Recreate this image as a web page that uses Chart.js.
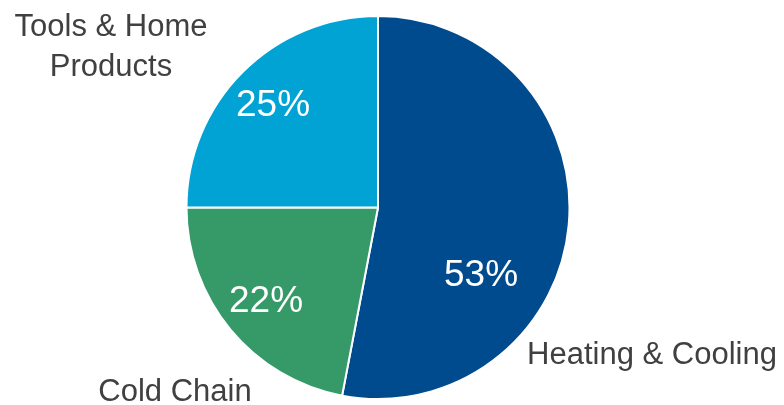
<!DOCTYPE html>
<html>
<head>
<meta charset="utf-8">
<script src="https://cdn.jsdelivr.net/npm/chart.js@4/dist/chart.umd.min.js"></script>
<style>
  html, body { margin:0; padding:0; background:#fff; }
  #wrap { width:784px; height:405px; position:relative; }
</style>
</head>
<body>
<div id="wrap"><canvas id="pie"></canvas></div>
<script>
// slice data, clockwise from 12 o'clock
const categories = ['Heating & Cooling', 'Cold Chain', 'Tools & Home\nProducts'];
const shares = [53, 22, 25];
const colors = ['#004B8D', '#359A68', '#00A3D3'];

// where the text goes (pixels on the canvas)
const pctPos = [[481, 276], [266, 302], [273, 106]];
const namePos = [[652, 355], [175, 392], [111, 27]];

const labelPlugin = {
    id: 'pieLabels',
    afterDatasetsDraw(chart) {
        const ctx = chart.ctx;
        const vals = chart.data.datasets[0].data;
        ctx.save();
        ctx.textAlign = 'center';
        ctx.textBaseline = 'middle';
        // percentages inside the slices
        ctx.fillStyle = '#ffffff';
        ctx.font = '37px "Liberation Sans", Arial, sans-serif';
        vals.forEach((v, i) => ctx.fillText(v + '%', pctPos[i][0], pctPos[i][1]));
        // category names outside
        ctx.fillStyle = '#404040';
        ctx.font = '31px "Liberation Sans", Arial, sans-serif';
        chart.data.labels.forEach((lab, i) => {
            lab.split('\n').forEach((line, j) => ctx.fillText(line, namePos[i][0], namePos[i][1] + j * 40));
        });
        ctx.restore();
    }
};

new Chart(document.getElementById('pie'), {
    type: 'pie',
    data: {
        labels: categories,
        datasets: [{ data: shares, backgroundColor: colors, borderColor: '#ffffff', borderWidth: 2 }]
    },
    options: {
        responsive: true,
        maintainAspectRatio: false,
        animation: false,
        layout: { padding: { top: 15, bottom: 5, left: 0, right: 28 } },
        plugins: { legend: { display: false }, tooltip: { enabled: false } }
    },
    plugins: [labelPlugin]
});
</script>
</body>
</html>
